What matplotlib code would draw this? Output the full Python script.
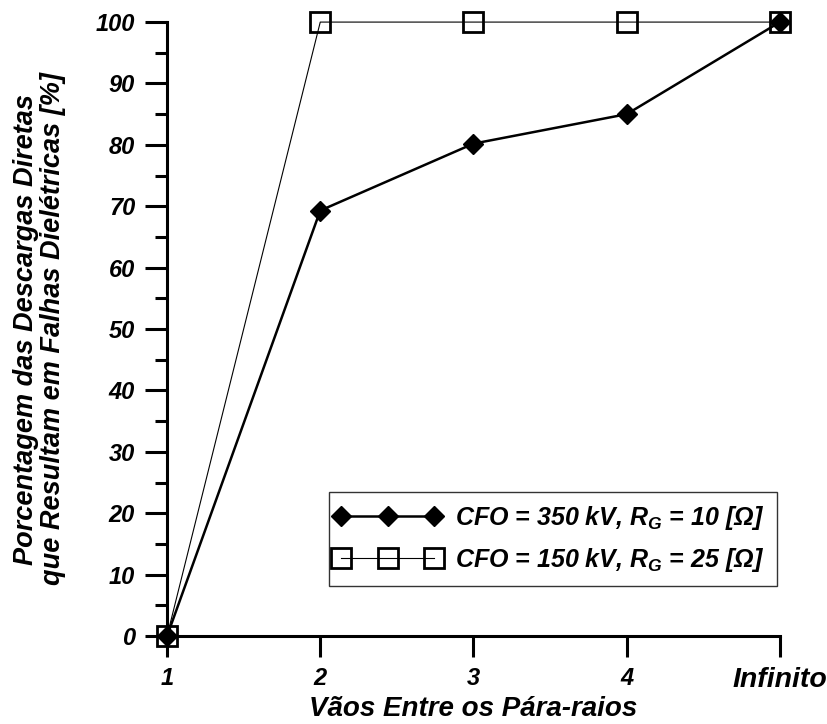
import matplotlib
matplotlib.use("Agg")
import matplotlib.pyplot as plt
from matplotlib.legend_handler import HandlerLine2D

plt.rcParams['font.family'] = ['Liberation Sans', 'DejaVu Sans']
plt.rcParams['font.weight'] = 'bold'
plt.rcParams['font.style'] = 'italic'
plt.rcParams['mathtext.fontset'] = 'custom'
plt.rcParams['mathtext.it'] = 'Liberation Sans:bold:italic'
plt.rcParams['mathtext.rm'] = 'Liberation Sans'

# data
x_labels = ['1', '2', '3', '4', 'Infinito']
x_pos = [1, 2, 3, 4, 5]
cfo_350 = [0, 69.3, 80.2, 85.0, 100]
cfo_150 = [0, 100, 100, 100, 100]
label_350 = r'CFO = 350 kV, R$_G$ = 10 [$\Omega$]'
label_150 = r'CFO = 150 kV, R$_G$ = 25 [$\Omega$]'

fig = plt.figure(figsize=(8.27, 7.24), dpi=100)
ax = fig.add_axes([0.202, 0.1215, 0.741, 0.848])

l1, = ax.plot(x_pos, cfo_350, color='black', lw=1.8, marker='D', ms=10.5,
              mfc='black', mec='black', label=label_350, clip_on=False, zorder=4)
l2, = ax.plot(x_pos, cfo_150, color='black', lw=0.8, marker='s', ms=14,
              mfc='none', mec='black', mew=2.0, label=label_150, clip_on=False, zorder=3)

ax.set_xlim(1, 5)
ax.set_ylim(0, 100)
ax.set_xticks(x_pos)
ax.set_xticklabels(x_labels)
ax.set_yticks(range(0, 101, 10))
ax.set_yticks(range(5, 100, 10), minor=True)

for s in ['top', 'right']:
    ax.spines[s].set_visible(False)
for s in ['left', 'bottom']:
    ax.spines[s].set_linewidth(2.2)

ax.tick_params(axis='y', which='major', direction='out', length=16, width=2.2,
               labelsize=17, pad=7)
ax.tick_params(axis='x', which='major', direction='out', length=15, width=2.2,
               labelsize=17, pad=7)
ax.tick_params(axis='y', which='minor', direction='out', length=8.5, width=2.2)
ax.get_xticklabels()[-1].set_fontsize(20.5)

ax.set_xlabel('Vãos Entre os Pára-raios', fontsize=20, fontweight='bold')
ax.xaxis.set_label_coords(0.5, -0.097)
ax.set_ylabel('Porcentagem das Descargas Diretas\nque Resultam em Falhas Dielétricas [%]',
              fontsize=19.5, fontweight='bold', linespacing=1.05)
ax.yaxis.set_label_coords(-0.165, 0.5)

leg = ax.legend(loc='lower right', bbox_to_anchor=(0.995, 0.081), borderaxespad=0,
                numpoints=3, fontsize=18, frameon=True, fancybox=False,
                edgecolor='black', handlelength=3.7, handletextpad=0.85,
                borderpad=0.5, labelspacing=0.55,
                handler_map={l1: HandlerLine2D(marker_pad=0),
                             l2: HandlerLine2D(marker_pad=0)})
leg.get_frame().set_linewidth(1.0)

fig.savefig('out.png', dpi=100)
